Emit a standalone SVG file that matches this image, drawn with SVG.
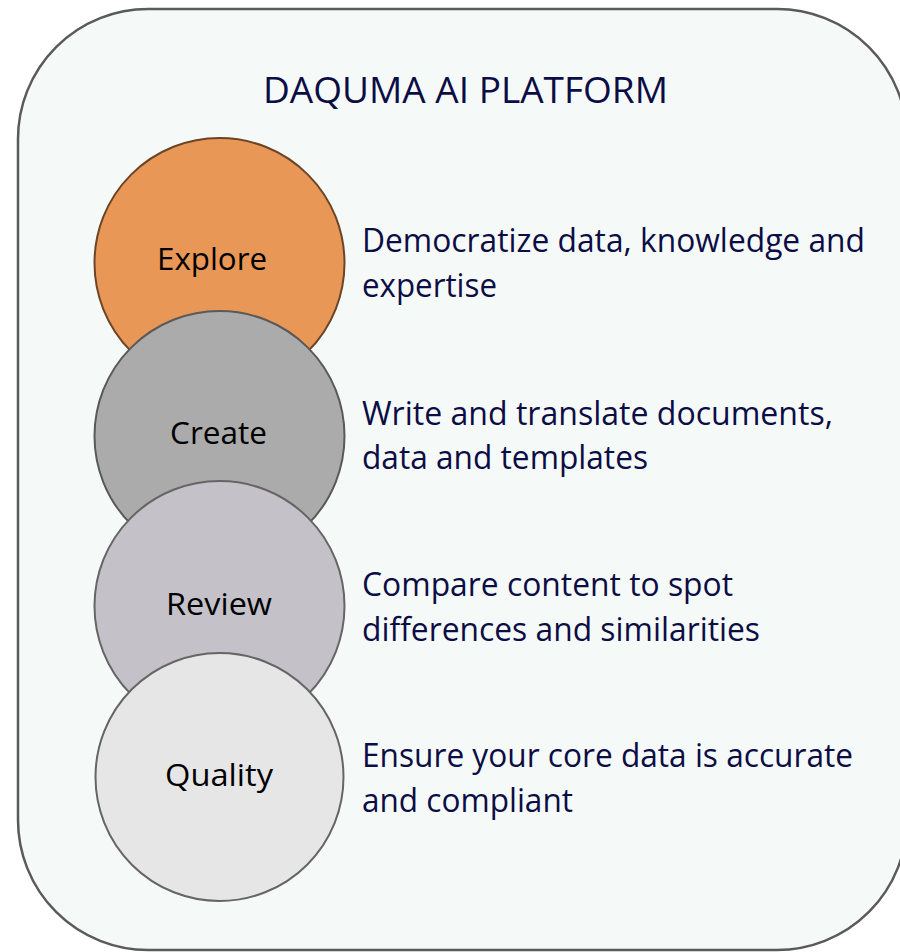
<svg xmlns="http://www.w3.org/2000/svg" width="900" height="952" viewBox="0 0 900 952">
<style>
.bg{fill:#F5FAF9;stroke:#5A5A5A;stroke-width:2.5}
.c{stroke-width:2}
.lbl{font-family:"Open Sans","Noto Sans","Liberation Sans",sans-serif;font-size:31px;fill:#000}
.desc{font-family:"Open Sans","Noto Sans","Liberation Sans",sans-serif;font-size:32.5px;fill:#0D0D45}
.title{font-family:"Open Sans","Noto Sans","Liberation Sans",sans-serif;font-size:37px;fill:#0D0D45}
</style>
<rect class="bg" x="18" y="9" width="889" height="941" rx="130" ry="130"/>
<g id="title"><text class="title" x="263" y="103" textLength="405" lengthAdjust="spacingAndGlyphs">DAQUMA AI PLATFORM</text></g>
<g id="connectors"></g>
<g id="explore">
<circle class="c" cx="219.5" cy="263" r="125" fill="#E89757" stroke="#6B4526"/>
<text class="lbl" x="157" y="270" textLength="110" lengthAdjust="spacingAndGlyphs">Explore</text>
</g>
<g id="create">
<circle class="c" cx="219.5" cy="436" r="125" fill="#ABABAB" stroke="#595959"/>
<text class="lbl" x="170" y="444" textLength="97" lengthAdjust="spacingAndGlyphs">Create</text>
</g>
<g id="review">
<circle class="c" cx="219.5" cy="606" r="125" fill="#C4C2C8" stroke="#656565"/>
<text class="lbl" x="166" y="615" textLength="106" lengthAdjust="spacingAndGlyphs">Review</text>
</g>
<g id="quality">
<circle class="c" cx="219.5" cy="777" r="124" fill="#E6E6E6" stroke="#656565"/>
<text class="lbl" x="165" y="786" textLength="108" lengthAdjust="spacingAndGlyphs">Quality</text>
</g>
<g id="desc-explore">
<text class="desc" x="362" y="252" textLength="503" lengthAdjust="spacingAndGlyphs">Democratize data, knowledge and</text>
<text class="desc" x="362" y="297" textLength="135" lengthAdjust="spacingAndGlyphs">expertise</text>
</g>
<g id="desc-create">
<text class="desc" x="362" y="425" textLength="471" lengthAdjust="spacingAndGlyphs">Write and translate documents,</text>
<text class="desc" x="362" y="469" textLength="286" lengthAdjust="spacingAndGlyphs">data and templates</text>
</g>
<g id="desc-review">
<text class="desc" x="362" y="596" textLength="371" lengthAdjust="spacingAndGlyphs">Compare content to spot</text>
<text class="desc" x="362" y="641" textLength="398" lengthAdjust="spacingAndGlyphs">differences and similarities</text>
</g>
<g id="desc-quality">
<text class="desc" x="362" y="767" textLength="491" lengthAdjust="spacingAndGlyphs">Ensure your core data is accurate</text>
<text class="desc" x="362" y="812" textLength="211" lengthAdjust="spacingAndGlyphs">and compliant</text>
</g>
</svg>
